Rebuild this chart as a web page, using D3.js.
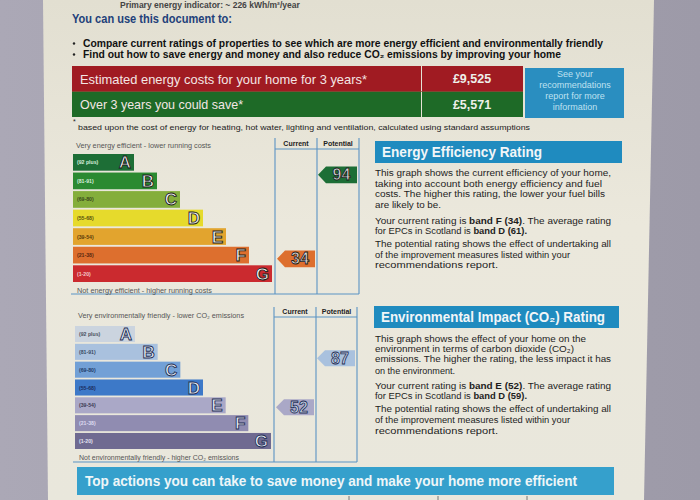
<!DOCTYPE html>
<html>
<head>
<meta charset="utf-8">
<script src="https://cdn.jsdelivr.net/npm/d3@7"></script>
<style>
html,body{margin:0;padding:0;background:#a4a1ae;}
svg{display:block;font-family:"Liberation Sans",Arial,sans-serif;}
</style>
</head>
<body>
<svg id="chart" width="700" height="500"></svg>
<script>
// ---------------- DATA ----------------
const bands = ["A", "B", "C", "D", "E", "F", "G"];
const bandRanges = ["(92 plus)", "(81-91)", "(69-80)", "(55-68)", "(39-54)", "(21-38)", "(1-20)"];
const bandLimits = [100.5, 91.5, 80.5, 68.5, 54.5, 38.5, 20.5, 0.5];
const energyCurrent = 34;
const energyPotential = 94;
const co2Current = 52;
const co2Potential = 87;
const averageEnergy = 61;
const averageCo2 = 59;
const costLabels = ["Estimated energy costs for your home for 3 years*", "Over 3 years you could save*"];
const costValues = ["£9,525", "£5,571"];
const columnLabels = ["Current", "Potential"];

// ---------------- STYLE ----------------
const energyColors = ["#1d6e36", "#2b8a31", "#84ae3b", "#e6da2c", "#e2a42e", "#dd6f2e", "#cb2a2f"];
const energyRangeInk = ["#d8eedd", "#d8eedd", "#3b4a1c", "#5a5210", "#5b3a0c", "#5a2810", "#f2c8c8"];
const co2Colors = ["#cbd4df", "#a9c1de", "#72a0d6", "#3d79c8", "#aaa8c7", "#908cb1", "#6f6a91"];
const co2RangeInk = ["#4a5060", "#3a4c66", "#1f3d6a", "#1c2d60", "#3c3a55", "#dcdaf0", "#e4e2f2"];

const svg = d3.select("#chart");

// page background with gradient
const defs = svg.append("defs");
const grad = defs.append("linearGradient").attr("id", "paper").attr("x1", 0).attr("y1", 0).attr("x2", 0).attr("y2", 1);
grad.append("stop").attr("offset", "0%").attr("stop-color", "#e2dfd1");
grad.append("stop").attr("offset", "45%").attr("stop-color", "#ebe8dc");
grad.append("stop").attr("offset", "100%").attr("stop-color", "#e9e7dc");
const bgGrad = defs.append("linearGradient").attr("id", "desk").attr("x1", 0).attr("y1", 0).attr("x2", 1).attr("y2", 0);
bgGrad.append("stop").attr("offset", "0%").attr("stop-color", "#aba8b6");
bgGrad.append("stop").attr("offset", "100%").attr("stop-color", "#9d9aa8");
svg.append("rect").attr("width", 700).attr("height", 500).attr("fill", "url(#desk)");
svg.append("path").attr("d", "M43,0 L654,0 L644,500 L48,500 Z").attr("fill", "url(#paper)");

// top line (partially visible in the photo)
svg.append("text").attr("x", 120).attr("y", 8).attr("font-size", 8.5).attr("font-weight", "bold")
  .attr("fill", "#444").text("Primary energy indicator: ~ 226 kWh/m²/year");

// heading + bullets
svg.append("text").attr("x", 72).attr("y", 23).attr("font-size", 12).attr("font-weight", "bold")
  .attr("fill", "#22407a").attr("textLength", 160).attr("lengthAdjust", "spacingAndGlyphs")
  .text("You can use this document to:");
const bullets = [
  "Compare current ratings of properties to see which are more energy efficient and environmentally friendly",
  "Find out how to save energy and money and also reduce CO₂ emissions by improving your home"
];
const bulletEnds = [603, 561];
bullets.forEach((b, i) => {
  const y = 47 + i * 11;
  svg.append("circle").attr("cx", 74).attr("cy", y - 3.5).attr("r", 1.2).attr("fill", "#222");
  svg.append("text").attr("x", 83).attr("y", y).attr("font-size", 10.5).attr("font-weight", "bold")
    .attr("fill", "#111").attr("textLength", bulletEnds[i] - 83).attr("lengthAdjust", "spacingAndGlyphs").text(b);
});

// cost table
const rowY = d3.scaleBand().domain(costLabels).range([66, 117]).paddingInner(0);
const rowFill = ["#a01b22", "#1e6a27"];
costLabels.forEach((lab, i) => {
  const y = rowY(lab), h = rowY.bandwidth();
  svg.append("rect").attr("x", 72).attr("y", y).attr("width", 349).attr("height", h).attr("fill", rowFill[i]);
  svg.append("rect").attr("x", 422).attr("y", y).attr("width", 101).attr("height", h).attr("fill", rowFill[i]);
  svg.append("text").attr("x", 80).attr("y", y + h / 2 + 5).attr("font-size", 13.5).attr("fill", "#f4e6e4")
    .attr("textLength", i === 0 ? 287 : 163).attr("lengthAdjust", "spacingAndGlyphs").text(lab);
  svg.append("text").attr("x", 472).attr("y", y + h / 2 + 4.5).attr("font-size", 12.5).attr("font-weight", "bold")
    .attr("text-anchor", "middle").attr("fill", "#eef0ea").text(costValues[i]);
});
svg.append("line").attr("x1", 72).attr("x2", 523).attr("y1", rowY(costLabels[1])).attr("y2", rowY(costLabels[1]))
  .attr("stroke", "#8a2a20").attr("stroke-width", 0.6);
svg.append("rect").attr("x", 525).attr("y", 68).attr("width", 99).attr("height", 50).attr("fill", "#2a8ec0");
["See your", "recommendations", "report for more", "information"].forEach((t, i) => {
  svg.append("text").attr("x", 575).attr("y", 77 + i * 11).attr("font-size", 9).attr("text-anchor", "middle")
    .attr("fill", "#bfe1f0").text(t);
});
svg.append("text").attr("x", 73).attr("y", 124).attr("font-size", 7).attr("fill", "#222").text("*");
svg.append("text").attr("x", 78).attr("y", 130).attr("font-size", 8).attr("fill", "#222")
  .attr("textLength", 452).attr("lengthAdjust", "spacingAndGlyphs")
  .text("based upon the cost of energy for heating, hot water, lighting and ventilation, calculated using standard assumptions");

// ---------------- RATING CHART ----------------
function ratingChart(cfg) {
  const g = svg.append("g");
  const y = d3.scaleBand().domain(bands).range([cfg.barTop, cfg.barBottom]).paddingInner(0.1).paddingOuter(0);
  const w = d3.scaleLinear().domain([0, bands.length - 1]).range([cfg.minW, cfg.maxW]);
  const yVal = d3.scaleLinear().domain(bandLimits)
    .range(bands.map(b => y(b) - y.step() * 0.05).concat([y("G") + y.step() * 0.95]));
  const line = d3.line();

  // frame
  const stroke = "#5a93c4";
  [cfg.colL, cfg.colM, cfg.colR].forEach(x => {
    g.append("line").attr("x1", x).attr("x2", x).attr("y1", cfg.top).attr("y2", cfg.bottom)
      .attr("stroke", stroke).attr("stroke-width", 1.1);
  });
  g.append("line").attr("x1", cfg.colL).attr("x2", cfg.colR).attr("y1", cfg.headLine).attr("y2", cfg.headLine)
    .attr("stroke", stroke).attr("stroke-width", 1.1);
  g.append("line").attr("x1", cfg.x0 - 2).attr("x2", cfg.colR).attr("y1", cfg.bottom).attr("y2", cfg.bottom)
    .attr("stroke", stroke).attr("stroke-width", 1.1);
  columnLabels.forEach((c, i) => {
    const cx = i === 0 ? (cfg.colL + cfg.colM) / 2 : (cfg.colM + cfg.colR) / 2;
    g.append("text").attr("x", cx).attr("y", cfg.headLine - 3.5).attr("font-size", 7).attr("font-weight", "bold")
      .attr("text-anchor", "middle").attr("fill", "#222").text(c);
  });
  g.append("text").attr("x", cfg.x0 + 3).attr("y", cfg.topTextY).attr("font-size", 6.5).attr("fill", "#555")
    .attr("textLength", cfg.topTextW).attr("lengthAdjust", "spacingAndGlyphs").text(cfg.topText);
  g.append("text").attr("x", cfg.x0 + 4).attr("y", cfg.botTextY).attr("font-size", 6.5).attr("fill", "#555")
    .attr("textLength", cfg.botTextW).attr("lengthAdjust", "spacingAndGlyphs").text(cfg.botText);

  // bars
  bands.forEach((b, i) => {
    const by = y(b), bh = y.bandwidth(), bw = w(i);
    g.append("rect").attr("x", cfg.x0).attr("y", by).attr("width", bw).attr("height", bh).attr("fill", cfg.colors[i]);
    g.append("text").attr("x", cfg.x0 + 4).attr("y", by + bh / 2 + 2).attr("font-size", 5.2).attr("font-weight", "bold")
      .attr("fill", cfg.ink[i]).text(bandRanges[i]);
    g.append("text").attr("x", cfg.x0 + bw - 3).attr("y", by + bh / 2 + 6).attr("font-size", 17).attr("font-weight", "bold")
      .attr("text-anchor", "end").attr("fill", cfg.letterFill).attr("stroke", cfg.letterStroke).attr("stroke-width", 0.9)
      .text(b);
  });

  // arrows
  function arrow(value, xl, xr) {
    const bandIdx = bandLimits.findIndex((l, k) => k < bands.length && value <= l && value > bandLimits[k + 1]);
    const cy = yVal(value) + y.bandwidth() / 2;
    const h = y.bandwidth();
    const pts = [[xl, cy], [xl + 8, cy - h / 2], [xr, cy - h / 2], [xr, cy + h / 2], [xl + 8, cy + h / 2]];
    g.append("path").attr("d", line(pts) + "Z").attr("fill", cfg.colors[bandIdx]);
    g.append("text").attr("x", (xl + xr) / 2 + 4).attr("y", cy + 5.5).attr("font-size", 16).attr("font-weight", "bold")
      .attr("text-anchor", "middle").attr("fill", cfg.numFill).attr("stroke", cfg.letterStroke).attr("stroke-width", 0.8)
      .text(value);
  }
  arrow(cfg.current, cfg.colL + 2, cfg.colM - 2);
  arrow(cfg.potential, cfg.colM + 1, cfg.colR - 2);
}

ratingChart({
  x0: 73, barTop: 154, barBottom: 282, minW: 61, maxW: 199,
  colL: 275, colM: 317, colR: 359, top: 138, headLine: 149, bottom: 294,
  topText: "Very energy efficient - lower running costs", topTextY: 148, topTextW: 135,
  botText: "Not energy efficient - higher running costs", botTextY: 293, botTextW: 135,
  colors: energyColors, ink: energyRangeInk, letterFill: "#f4f4f4", letterStroke: "#1a1a1a", numFill: "#d8d8d8",
  current: energyCurrent, potential: energyPotential
});
ratingChart({
  x0: 75, barTop: 326, barBottom: 449, minW: 60, maxW: 196,
  colL: 274, colM: 316, colR: 357, top: 307, headLine: 317, bottom: 462,
  topText: "Very environmentally friendly - lower CO₂ emissions", topTextY: 318, topTextW: 166,
  botText: "Not environmentally friendly - higher CO₂ emissions", botTextY: 460, botTextW: 160,
  colors: co2Colors, ink: co2RangeInk, letterFill: "#e8eef6", letterStroke: "#1e2e55", numFill: "#c8d4e8",
  current: co2Current, potential: co2Potential
});

// ---------------- RIGHT PANELS ----------------
function letterOf(v) {
  const k = bandLimits.findIndex((l, i) => i < bands.length && v <= l && v > bandLimits[i + 1]);
  return bands[k];
}
function panel(title, titleBox, titleW, lines, lineYs) {
  svg.append("rect").attr("x", titleBox[0]).attr("y", titleBox[1]).attr("width", titleBox[2] - titleBox[0])
    .attr("height", titleBox[3] - titleBox[1]).attr("fill", "#1f8bbf");
  svg.append("text").attr("x", titleBox[0] + 7).attr("y", titleBox[3] - 6).attr("font-size", 14).attr("font-weight", "bold")
    .attr("fill", "#f2f6f8").attr("textLength", titleW).attr("lengthAdjust", "spacingAndGlyphs").text(title);
  lines.forEach((ln, i) => {
    const t = svg.append("text").attr("x", 375).attr("y", lineYs[i]).attr("font-size", 9.2).attr("fill", "#1d1d1d")
      .attr("textLength", ln.end - 375).attr("lengthAdjust", "spacingAndGlyphs");
    ln.parts.forEach(p => t.append("tspan").attr("font-weight", p[1] ? "bold" : "normal").text(p[0]));
  });
}
const eeLines = [
  { parts: [["This graph shows the current efficiency of your home,", 0]], end: 611 },
  { parts: [["taking into account both energy efficiency and fuel", 0]], end: 602 },
  { parts: [["costs. The higher this rating, the lower your fuel bills", 0]], end: 605 },
  { parts: [["are likely to be.", 0]], end: 441 },
  { parts: [["Your current rating is ", 0], [`band ${letterOf(energyCurrent)} (${energyCurrent})`, 1], [". The average rating", 0]], end: 611 },
  { parts: [["for EPCs in Scotland is ", 0], [`band ${letterOf(averageEnergy)} (${averageEnergy}).`, 1]], end: 527 },
  { parts: [["The potential rating shows the effect of undertaking all", 0]], end: 611 },
  { parts: [["of the improvement measures listed within your", 0]], end: 570 },
  { parts: [["recommendations report.", 0]], end: 498 }
];
panel("Energy Efficiency Rating", [375, 141, 622, 163], 160, eeLines, [176, 187, 197, 207.5, 224, 234, 247, 257.5, 268]);
const eiLines = [
  { parts: [["This graph shows the effect of your home on the", 0]], end: 586 },
  { parts: [["environment in terms of carbon dioxide (CO₂)", 0]], end: 574 },
  { parts: [["emissions. The higher the rating, the less impact it has", 0]], end: 611 },
  { parts: [["on the environment.", 0]], end: 455 },
  { parts: [["Your current rating is ", 0], [`band ${letterOf(co2Current)} (${co2Current})`, 1], [". The average rating", 0]], end: 611 },
  { parts: [["for EPCs in Scotland is ", 0], [`band ${letterOf(averageCo2)} (${averageCo2}).`, 1]], end: 527 },
  { parts: [["The potential rating shows the effect of undertaking all", 0]], end: 611 },
  { parts: [["of the improvement measures listed within your", 0]], end: 570 },
  { parts: [["recommendations report.", 0]], end: 498 }
];
panel("Environmental Impact (CO₂) Rating", [374, 306, 619, 328], 224, eiLines, [342, 352, 362, 373.5, 389, 399, 412, 422.5, 433.5]);

// bottom bar
svg.append("rect").attr("x", 77).attr("y", 467).attr("width", 537).attr("height", 28).attr("fill", "#35a0cc");
svg.append("text").attr("x", 85).attr("y", 486).attr("font-size", 14).attr("font-weight", "bold").attr("fill", "#eef6f8")
  .attr("textLength", 492).attr("lengthAdjust", "spacingAndGlyphs")
  .text("Top actions you can take to save money and make your home more efficient");
[349, 438, 527].forEach(x => svg.append("line").attr("x1", x).attr("x2", x).attr("y1", 496).attr("y2", 500)
  .attr("stroke", "#777").attr("stroke-width", 1));
</script>
</body>
</html>
